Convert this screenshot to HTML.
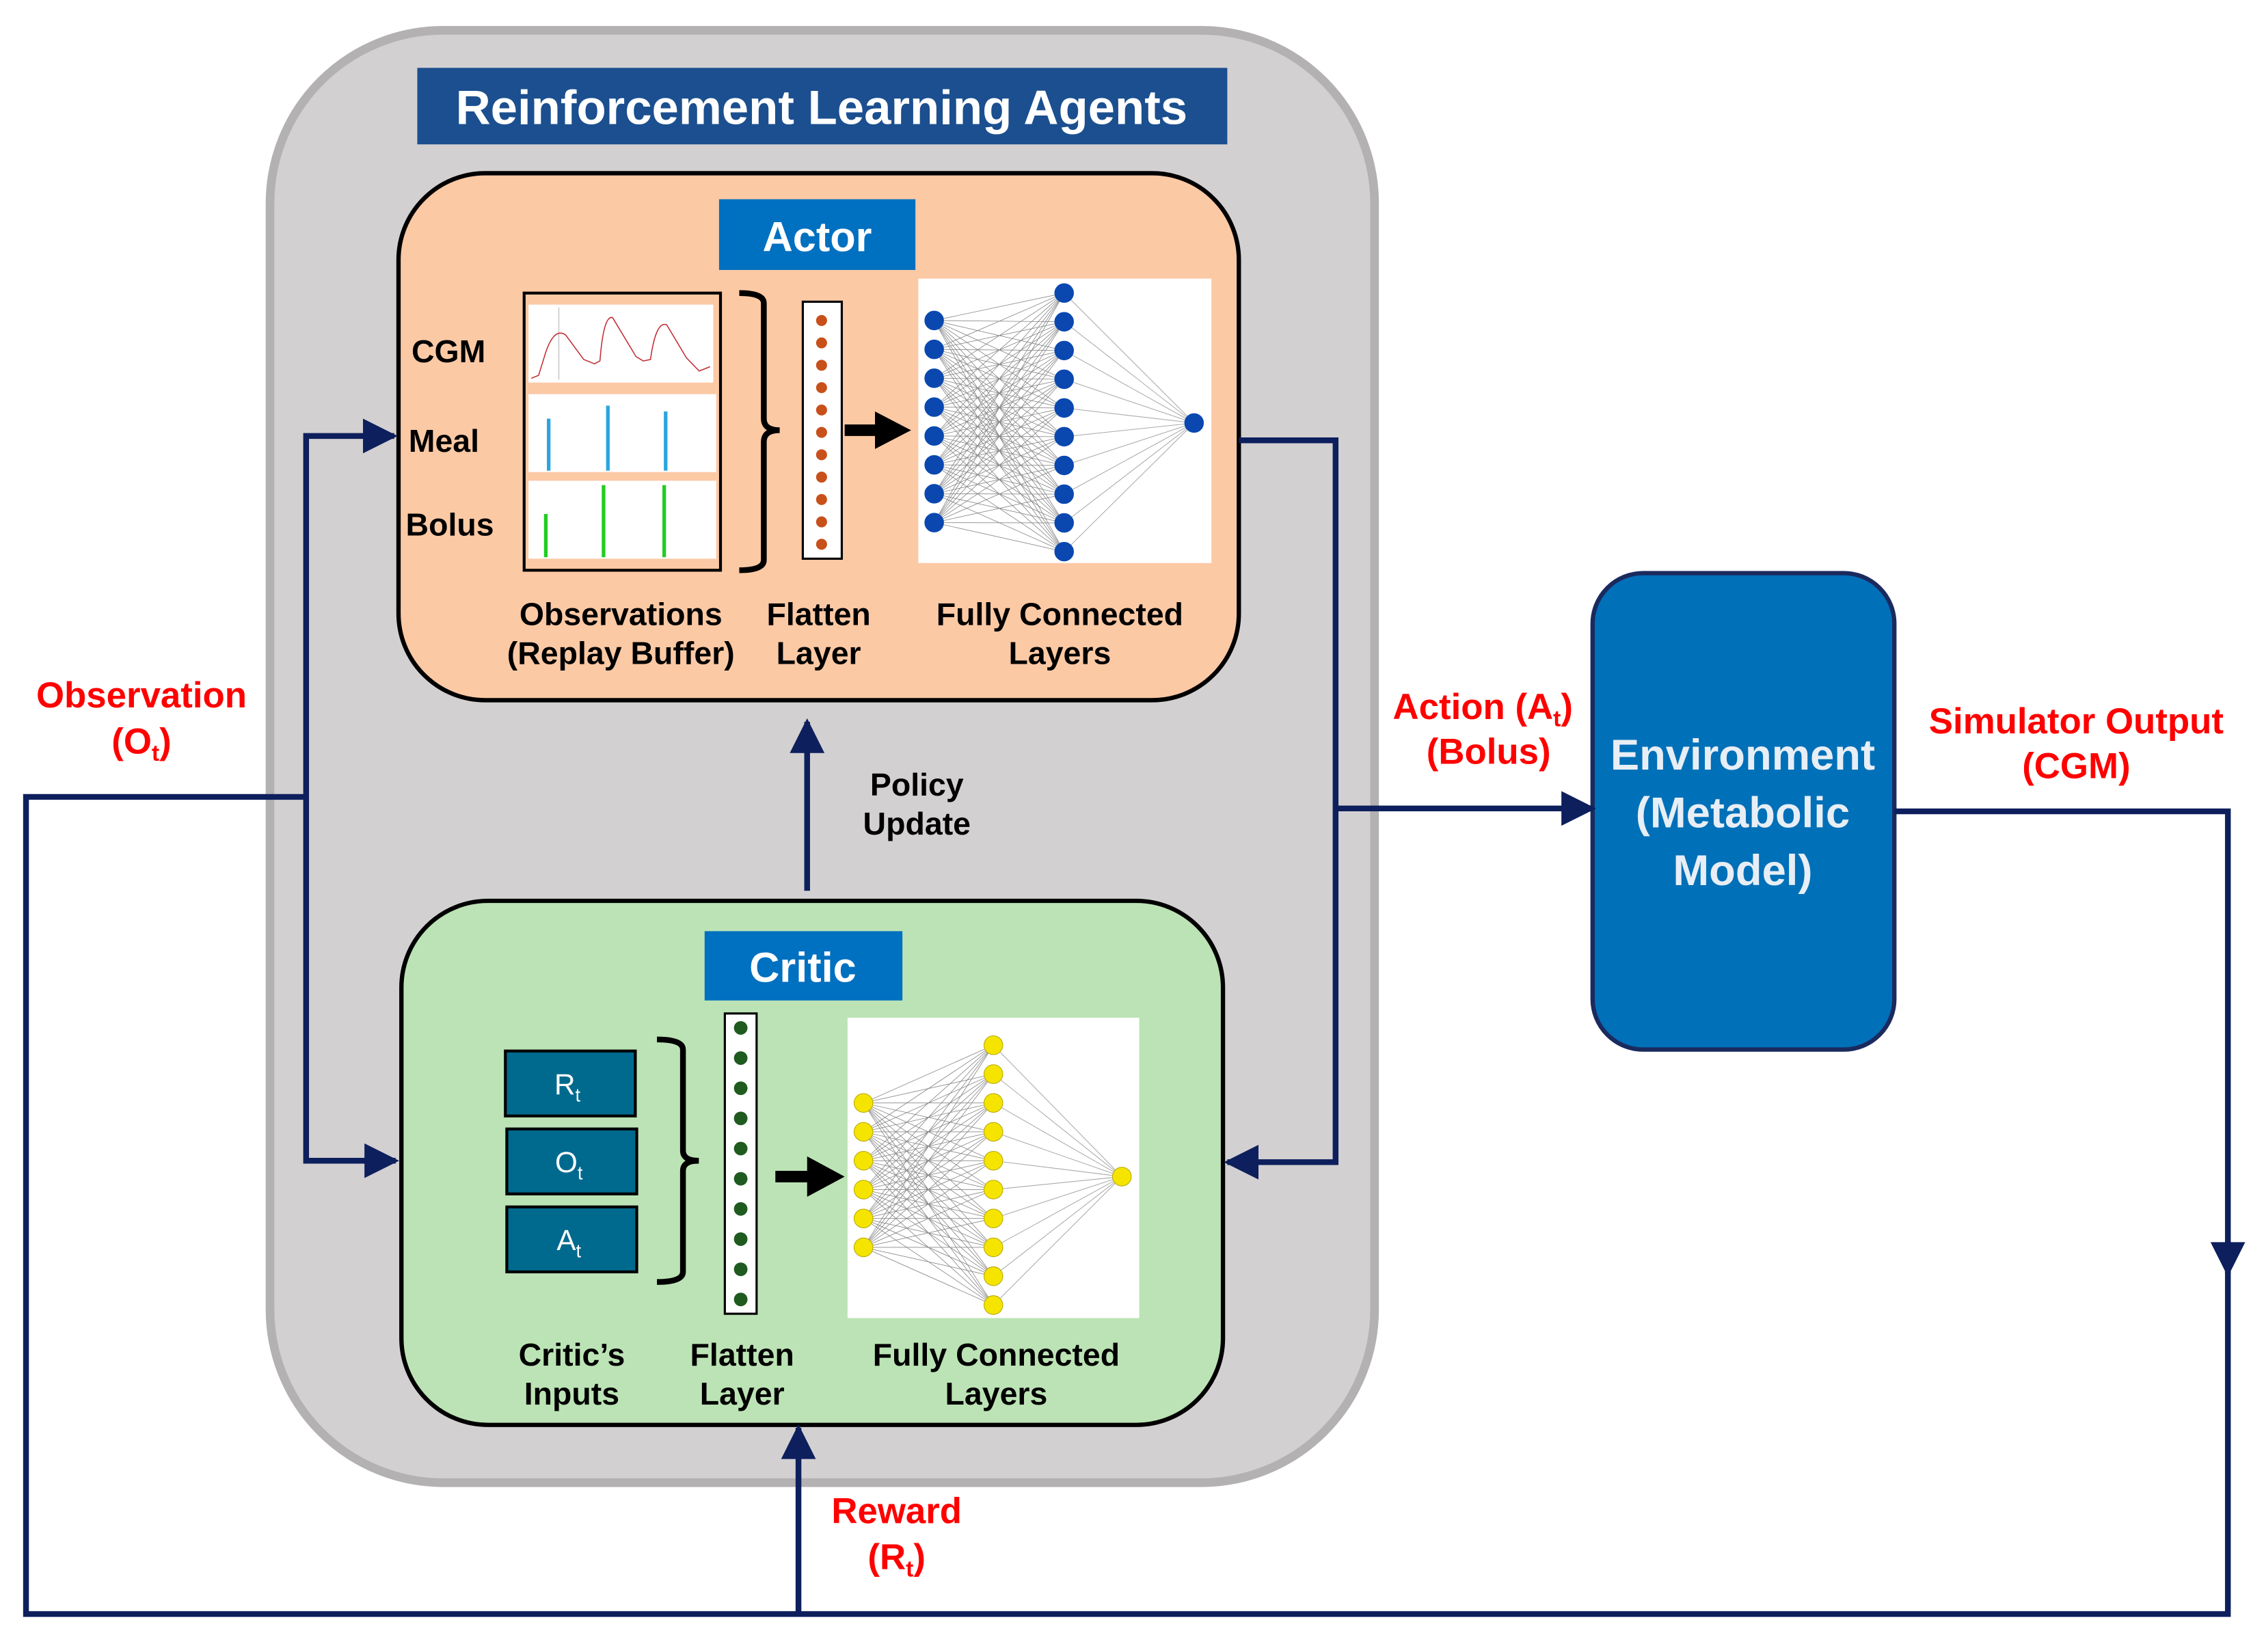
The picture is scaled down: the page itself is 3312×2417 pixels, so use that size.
<!DOCTYPE html>
<html><head><meta charset="utf-8"><style>
html,body{margin:0;padding:0;background:#fff;}
svg{display:block;}
text{font-family:"Liberation Sans",Arial,sans-serif;font-weight:bold;}
</style></head><body>
<svg id="s" width="3312" height="2417" viewBox="0 0 1568 1144.3" xmlns="http://www.w3.org/2000/svg">
<defs>
<marker id="ah" viewBox="0 0 10 10" refX="9" refY="5" markerWidth="6.5" markerHeight="6" orient="auto" markerUnits="strokeWidth"><path d="M0,0 L10,5 L0,10 z" fill="#0d1f5c"/></marker>
</defs>
<rect x="0" y="0" width="1568" height="1145" fill="#fff"/>
<rect x="187" y="21" width="765" height="1006" rx="120" fill="#d3d0d1" stroke="#b3b1b1" stroke-width="6"/>
<rect x="289" y="47" width="561" height="53" fill="#1b4f8f"/>
<text x="569" y="86" text-anchor="middle" font-size="33.5" fill="#fff">Reinforcement Learning Agents</text>

<!-- Actor -->
<rect x="276" y="120" width="582" height="365" rx="60" fill="#fcc9a5" stroke="#000" stroke-width="3"/>
<rect x="498" y="138" width="136" height="49" fill="#0070c0"/>
<text x="566" y="174" text-anchor="middle" font-size="29" fill="#fff">Actor</text>
<text x="285" y="251" font-size="22">CGM</text>
<text x="283" y="313" font-size="22">Meal</text>
<text x="281" y="371" font-size="22">Bolus</text>
<rect x="363" y="203" width="136" height="192" fill="#fcc9a5" stroke="#000" stroke-width="2"/>
<rect x="366" y="211" width="128" height="54" fill="#fff"/>
<rect x="366" y="273" width="130" height="54" fill="#fff"/>
<rect x="366" y="333" width="130" height="54" fill="#fff"/>
<line x1="387" y1="213" x2="387" y2="263" stroke="#ccc" stroke-width="0.8"/>
<g transform="translate(368,0) scale(1.25,1) translate(-368,0)">
<path d="M368,262 L372,260 L375,248 Q380,226 387,232 L397,249 L403,252 L406,250 Q408,218 413,220 L426,247 L430,250 L434,249 Q437,222 443,225 L454,248 L461,257 L467,254" fill="none" stroke="#c0282e" stroke-width="1.5" vector-effect="non-scaling-stroke"/>
</g>
<g stroke="#29a6de" stroke-width="2.5"><line x1="380" y1="290" x2="380" y2="326"/><line x1="421" y1="281" x2="421" y2="326"/><line x1="461" y1="285" x2="461" y2="326"/></g>
<g stroke="#22cc22" stroke-width="2.5"><line x1="378" y1="356" x2="378" y2="386"/><line x1="418" y1="336" x2="418" y2="386"/><line x1="460" y1="336" x2="460" y2="386"/></g>
<path d="M512,203 Q529,203 529,210 L529,290 Q529,298 540,298 Q529,298 529,306 L529,388 Q529,395 512,395" fill="none" stroke="#000" stroke-width="4"/>
<rect x="556" y="209" width="27" height="178" fill="#fff" stroke="#000" stroke-width="1.5"/>
<g id="ad"></g>
<path d="M585,294 L606,294 L606,285 L631,298 L606,311 L606,302 L585,302 z" fill="#000"/>
<rect x="636" y="193" width="203" height="197" fill="#fff"/>
<g id="an"></g>
<g font-size="22" text-anchor="middle">
<text x="430" y="433">Observations</text><text x="430" y="460">(Replay Buffer)</text>
<text x="567" y="433">Flatten</text><text x="567" y="460">Layer</text>
<text x="734" y="433">Fully Connected</text><text x="734" y="460">Layers</text>
</g>

<!-- Critic -->
<rect x="278" y="624" width="569" height="363" rx="60" fill="#bce3b5" stroke="#000" stroke-width="3"/>
<rect x="488" y="645" width="137" height="48" fill="#0070c0"/>
<text x="556" y="680" text-anchor="middle" font-size="29" fill="#fff">Critic</text>
<g fill="#006a8e" stroke="#000" stroke-width="2">
<rect x="350" y="728" width="90" height="45"/><rect x="351" y="782" width="90" height="45"/><rect x="351" y="836" width="90" height="45"/>
</g>
<g fill="#fff" text-anchor="middle" font-size="20">
<text x="393" y="758" style="font-weight:normal">R<tspan font-size="13" dy="5">t</tspan></text>
<text x="394" y="812" style="font-weight:normal">O<tspan font-size="13" dy="5">t</tspan></text>
<text x="394" y="866" style="font-weight:normal">A<tspan font-size="13" dy="5">t</tspan></text>
</g>
<path d="M455,720 Q473,720 473,727 L473,797 Q473,804 484,804 Q473,804 473,811 L473,881 Q473,888 455,888" fill="none" stroke="#000" stroke-width="4"/>
<rect x="502" y="702" width="22" height="208" fill="#fff" stroke="#000" stroke-width="1.5"/>
<g id="cd"></g>
<path d="M537,811 L559,811 L559,801 L585,815 L559,829 L559,819 L537,819 z" fill="#000"/>
<rect x="587" y="705" width="202" height="208" fill="#fff"/>
<g id="cn"></g>
<g font-size="22" text-anchor="middle">
<text x="396" y="946">Critic’s</text><text x="396" y="973">Inputs</text>
<text x="514" y="946">Flatten</text><text x="514" y="973">Layer</text>
<text x="690" y="946">Fully Connected</text><text x="690" y="973">Layers</text>
</g>

<line x1="559" y1="617" x2="559" y2="500" stroke="#0d1f5c" stroke-width="4" marker-end="url(#ah)"/>
<text x="635" y="551" text-anchor="middle" font-size="22">Policy</text>
<text x="635" y="578" text-anchor="middle" font-size="22">Update</text>

<rect x="1103" y="397" width="209" height="330" rx="35" fill="#0070b8" stroke="#1b2a5e" stroke-width="3"/>
<g fill="#e8eef5" font-size="30" text-anchor="middle">
<text x="1207" y="533">Environment</text><text x="1207" y="573">(Metabolic</text><text x="1207" y="613">Model)</text>
</g>

<g fill="none" stroke="#0d1f5c" stroke-width="4">
<polyline points="858,305 925,305 925,805 850,805" marker-end="url(#ah)"/>
<line x1="925" y1="560" x2="1103" y2="560" marker-end="url(#ah)"/>
<polyline points="1312,562 1543,562 1543,882" marker-end="url(#ah)"/>
<polyline points="1543,870 1543,1118 18,1118 18,552 212,552"/>
<polyline points="212,552 212,302 273,302" marker-end="url(#ah)"/>
<polyline points="212,552 212,804 274,804" marker-end="url(#ah)"/>
<line x1="553" y1="1118" x2="553" y2="989" marker-end="url(#ah)"/>
</g>

<g fill="#ff0000" font-size="25" text-anchor="middle">
<text x="98" y="490">Observation</text>
<text x="98" y="522">(O<tspan font-size="16" dy="5">t</tspan><tspan dy="-5">)</tspan></text>
<text x="1027" y="498">Action (A<tspan font-size="16" dy="5">t</tspan><tspan dy="-5">)</tspan></text>
<text x="1031" y="529">(Bolus)</text>
<text x="1438" y="508">Simulator Output</text>
<text x="1438" y="539">(CGM)</text>
<text x="621" y="1055">Reward</text>
<text x="621" y="1087">(R<tspan font-size="16" dy="5">t</tspan><tspan dy="-5">)</tspan></text>
</g>
</svg>
<script>
var NS="http://www.w3.org/2000/svg";
function el(p,t,a){var e=document.createElementNS(NS,t);for(var k in a)e.setAttribute(k,a[k]);document.getElementById(p).appendChild(e);}
for(var i=0;i<11;i++)el("ad","circle",{cx:569,cy:222+i*15.5,r:3.8,fill:"#c8501a"});
for(var i=0;i<10;i++)el("cd","circle",{cx:513,cy:712+i*20.9,r:4.7,fill:"#1f5a1f"});
function net(g,lx,ly0,ln,ls,mx,my0,mn,ms,ox,oy,fill,r,st){
 for(var i=0;i<ln;i++)for(var j=0;j<mn;j++)el(g,"line",{x1:lx,y1:ly0+i*ls,x2:mx,y2:my0+j*ms,stroke:"#888","stroke-width":0.4});
 for(var j=0;j<mn;j++)el(g,"line",{x1:mx,y1:my0+j*ms,x2:ox,y2:oy,stroke:"#aaa","stroke-width":0.5});
 for(var i=0;i<ln;i++)el(g,"circle",{cx:lx,cy:ly0+i*ls,r:r,fill:fill,stroke:st,"stroke-width":0.5});
 for(var j=0;j<mn;j++)el(g,"circle",{cx:mx,cy:my0+j*ms,r:r,fill:fill,stroke:st,"stroke-width":0.5});
 el(g,"circle",{cx:ox,cy:oy,r:r,fill:fill,stroke:st,"stroke-width":0.5});
}
net("an",647,222,8,20,737,203,10,19.9,827,293,"#0a48b0",6.5,"#0a48b0");
net("cn",598,764,6,20,688,724,10,20,777,815,"#f5e400",6.5,"#b8a800");
</script>
</body></html>
